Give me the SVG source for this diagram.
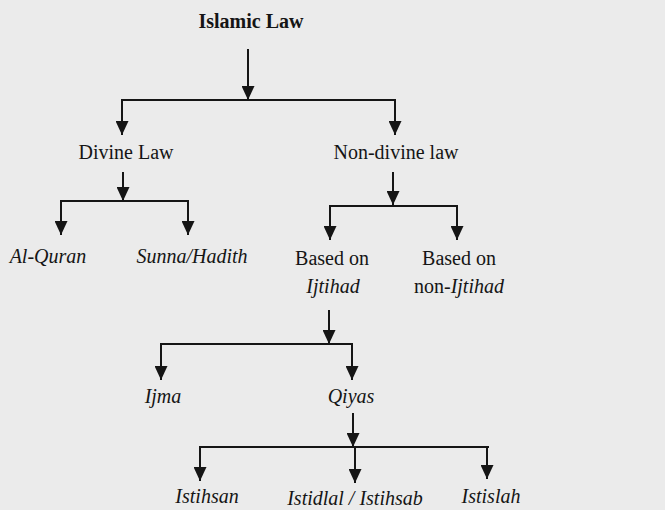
<svg xmlns="http://www.w3.org/2000/svg" width="665" height="510" viewBox="0 0 665 510">
<style>
.t{font-family:"Liberation Serif","Times New Roman",serif;font-size:20px;fill:#151515;text-anchor:middle}
.b{font-weight:bold}
.i{font-style:italic}
.c line{stroke:#151515;stroke-width:2;fill:none}
.a{marker-end:url(#ah)}
</style>
<defs>
<marker id="ah" markerUnits="userSpaceOnUse" markerWidth="15" markerHeight="13" refX="14" refY="6.5" orient="auto">
<path d="M0,0 L14,6.5 L0,13 z" fill="#151515"/>
</marker>
</defs>
<rect width="665" height="510" fill="#ebebeb"/>
<g id="connectors" class="c">
<line class="a" x1="248" y1="49" x2="248" y2="100"/>
<line x1="121" y1="100" x2="396" y2="100"/>
<line class="a" x1="122" y1="100" x2="122" y2="135"/>
<line class="a" x1="395" y1="100" x2="395" y2="135"/>
<line class="a" x1="123" y1="172" x2="123" y2="201"/>
<line x1="60" y1="201" x2="189" y2="201"/>
<line class="a" x1="61" y1="201" x2="61" y2="235"/>
<line class="a" x1="188" y1="201" x2="188" y2="235"/>
<line class="a" x1="393" y1="172" x2="393" y2="205"/>
<line x1="329" y1="206" x2="458" y2="206"/>
<line class="a" x1="330" y1="206" x2="330" y2="240"/>
<line class="a" x1="457" y1="206" x2="457" y2="240"/>
<line class="a" x1="329" y1="310" x2="329" y2="344"/>
<line x1="160" y1="344" x2="353" y2="344"/>
<line class="a" x1="161" y1="344" x2="161" y2="380"/>
<line class="a" x1="352" y1="344" x2="352" y2="380"/>
<line class="a" x1="353" y1="413" x2="353" y2="447"/>
<line x1="199" y1="447" x2="489" y2="447"/>
<line class="a" x1="200" y1="447" x2="200" y2="481"/>
<line class="a" x1="355" y1="447" x2="355" y2="483"/>
<line class="a" x1="487" y1="447" x2="487" y2="479"/>
</g>
<g id="islamic-law"><text class="t b" x="251" y="28">Islamic Law</text></g>
<g id="divine-law"><text class="t" x="126" y="159">Divine Law</text></g>
<g id="non-divine-law"><text class="t" x="396" y="159">Non-divine law</text></g>
<g id="al-quran"><text class="t i" x="48" y="263">Al-Quran</text></g>
<g id="sunna-hadith"><text class="t i" x="192" y="263">Sunna/Hadith</text></g>
<g id="based-ijtihad"><text class="t" x="332" y="265">Based on</text><text class="t i" x="333" y="293">Ijtihad</text></g>
<g id="based-non-ijtihad"><text class="t" x="459" y="265">Based on</text><text class="t" x="459" y="293">non-<tspan class="i">Ijtihad</tspan></text></g>
<g id="ijma"><text class="t i" x="163" y="403">Ijma</text></g>
<g id="qiyas"><text class="t i" x="351" y="403">Qiyas</text></g>
<g id="istihsan"><text class="t i" x="207" y="503">Istihsan</text></g>
<g id="istidlal"><text class="t i" x="355" y="505">Istidlal / Istihsab</text></g>
<g id="istislah"><text class="t i" x="491" y="503">Istislah</text></g>
</svg>
